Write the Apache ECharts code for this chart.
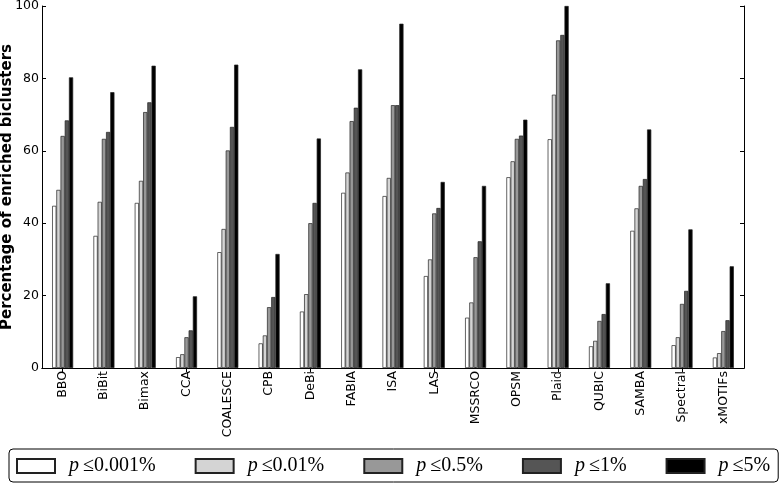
<!DOCTYPE html>
<html>
<head>
<meta charset="utf-8">
<script src="https://cdn.jsdelivr.net/npm/echarts@6/dist/echarts.min.js"></script>
<style>
  html, body { margin: 0; padding: 0; background: #fff; }
  #chart { width: 779px; height: 485px; }
</style>
</head>
<body>
<div id="chart"></div>
<script>
// methods on the x axis
const methods = ['BBO', 'BiBit', 'Bimax', 'CCA', 'COALESCE', 'CPB', 'DeBi', 'FABIA', 'ISA', 'LAS',
  'MSSRCO', 'OPSM', 'Plaid', 'QUBIC', 'SAMBA', 'Spectral', 'xMOTIFs'];

// percentage of enriched biclusters per p-value cutoff
const p0001 = [44.8, 36.5, 45.6, 3.0, 32.0, 6.8, 15.6, 48.4, 47.5, 25.4, 13.9, 52.7, 63.2, 6.0, 37.9, 6.3, 2.9];
const p001  = [49.2, 45.9, 51.7, 3.8, 38.4, 9.0, 20.4, 54.0, 52.5, 30.0, 18.1, 57.1, 75.5, 7.5, 44.1, 8.5, 4.1];
const p05   = [64.1, 63.3, 70.7, 8.5, 60.1, 16.8, 40.0, 68.2, 72.6, 42.7, 30.6, 63.3, 90.5, 13.0, 50.3, 17.7, 10.2];
const p1    = [68.4, 65.2, 73.4, 10.4, 66.6, 19.6, 45.6, 71.9, 72.6, 44.2, 35.0, 64.2, 92.0, 14.9, 52.2, 21.3, 13.2];
const p5    = [80.3, 76.2, 83.5, 19.8, 83.8, 31.5, 63.4, 82.5, 95.1, 51.4, 50.3, 68.6, 100, 23.4, 65.9, 38.3, 28.1];

const seriesNames = ['p0.001', 'p0.01', 'p0.5', 'p1', 'p5'];
const seriesLabels = ['0.001%', '0.01%', '0.5%', '1%', '5%'];
const seriesData = [p0001, p001, p05, p1, p5];
const colors = ['#ffffff', '#d4d4d4', '#989898', '#555555', '#000000'];

const chart = echarts.init(document.getElementById('chart'));

const axisLine = { show: true, lineStyle: { color: '#000', width: 1 } };
const tick = { show: true, inside: true, length: 4, lineStyle: { color: '#000' } };

chart.setOption({
  animation: false,
  grid: { left: 42, right: 35, top: 6, bottom: 117, outerBoundsMode: 'none', containLabel: false },
  legend: {
    left: 9,
    top: 449,
    padding: [7, 8, 6, 7],
    itemGap: 39,
    itemWidth: 38,
    itemHeight: 14,
    borderColor: '#000',
    borderWidth: 1,
    borderRadius: 4,
    icon: 'rect',
    data: seriesNames,
    formatter: function (name) {
      return '{i|p}\u2009≤' + seriesLabels[seriesNames.indexOf(name)];
    },
    textStyle: {
      fontFamily: 'Liberation Serif',
      fontSize: 20,
      color: '#000',
      padding: [0, 0, 0, 9],
      rich: {
        i: { fontFamily: 'Liberation Serif', fontStyle: 'italic', fontSize: 20 }
      }
    }
  },
  xAxis: [
    {
      type: 'category',
      data: methods,
      axisLine: axisLine,
      axisTick: Object.assign({ alignWithLabel: true }, tick),
      axisLabel: {
        interval: 0,
        rotate: 90,
        margin: 3,
        fontFamily: 'DejaVu Sans',
        fontSize: 12.5,
        color: '#000'
      }
    },
    {
      type: 'category',
      position: 'top',
      data: methods,
      axisLine: axisLine,
      axisTick: Object.assign({ alignWithLabel: true }, tick),
      axisLabel: { show: false }
    }
  ],
  yAxis: [
    {
      type: 'value',
      min: 0,
      max: 100,
      interval: 20,
      name: 'Percentage of enriched biclusters',
      nameLocation: 'middle',
      nameGap: 27,
      nameMoveOverlap: false,
      nameTextStyle: { fontFamily: 'DejaVu Sans', fontSize: 15, fontWeight: 'bold', color: '#000' },
      axisLine: axisLine,
      axisTick: tick,
      axisLabel: { fontFamily: 'DejaVu Sans', fontSize: 12.5, color: '#000', margin: 3 },
      splitLine: { show: false }
    },
    {
      type: 'value',
      position: 'right',
      min: 0,
      max: 100,
      interval: 20,
      axisLine: axisLine,
      axisTick: tick,
      axisLabel: { show: false },
      splitLine: { show: false }
    }
  ],
  series: seriesData.map(function (d, i) {
    return {
      name: seriesNames[i],
      type: 'bar',
      data: d,
      barWidth: 4.2,
      barGap: '0%',
      itemStyle: { color: colors[i], borderColor: '#222', borderWidth: 0.7 }
    };
  })
});
</script>
</body>
</html>
